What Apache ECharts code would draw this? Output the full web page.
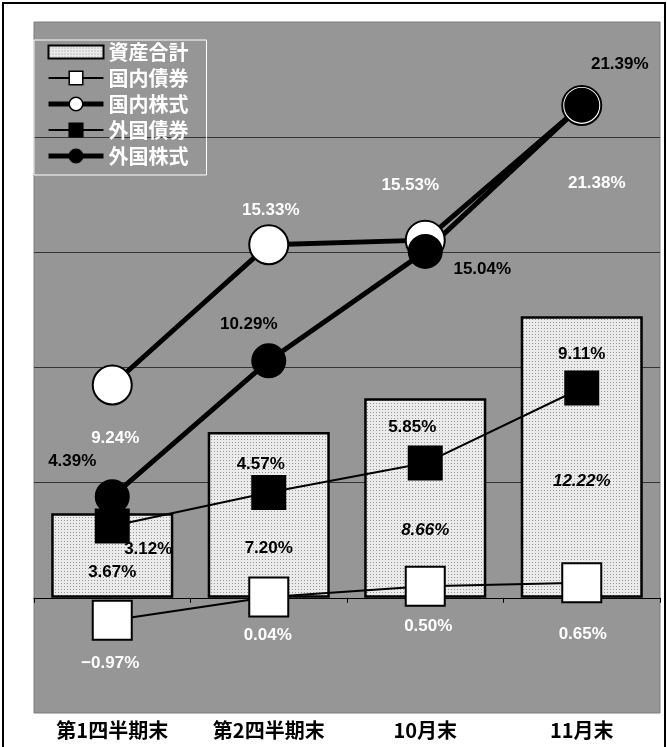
<!DOCTYPE html>
<html>
<head>
<meta charset="utf-8">
<title>資産別リターン</title>
<script src="https://cdn.jsdelivr.net/npm/echarts@6/dist/echarts.min.js"></script>
<style>
html, body { margin: 0; padding: 0; background: #fff; }
#chart { width: 667px; height: 747px; }
</style>
</head>
<body>
<div id="chart"></div>
<script>
// data
var categories = ['第1四半期末', '第2四半期末', '10月末', '11月末'];
var totalAssets = [3.67, 7.20, 8.66, 12.22];
var domesticBonds = [-0.97, 0.04, 0.50, 0.65];
var domesticStocks = [9.24, 15.33, 15.53, 21.38];
var foreignBonds = [3.12, 4.57, 5.85, 9.11];
var foreignStocks = [4.39, 10.29, 15.04, 21.39];
var names = ['資産合計', '国内債券', '国内株式', '外国債券', '外国株式'];
var yMin = -5, yMax = 25, yStep = 5;

// label placement (pixels from the mark)
var offTotal = [[0, 17], [0, 33], [0, 32], [0, 24]];
var italicTotal = [false, false, true, true];
var offDB = [[-2, 43], [-1, 38], [3, 40], [1, 51]];
var offDS = [[3, 53], [2, -34], [-15, -55], [15, 78]];
var offFB = [[36, 23], [-8, -28], [-13, -36], [0, -34]];
var offFS = [[-40, -35], [-20, -37], [57, 18], [38, -41]];

var numFont = "'Liberation Sans', Arial, sans-serif";
var jpFont = "'Noto Sans CJK JP', sans-serif";

// dotted fill for the bars
var pc = document.createElement('canvas');
pc.width = 3; pc.height = 3;
var pctx = pc.getContext('2d');
pctx.fillStyle = '#ebebeb';
pctx.fillRect(0, 0, 3, 3);
pctx.fillStyle = '#959595';
pctx.fillRect(1, 1, 1, 1);
var dotted = { image: pc, repeat: 'repeat' };

function fmt(p) {
    var v = p.value;
    return (v < 0 ? '−' + Math.abs(v).toFixed(2) : v.toFixed(2)) + '%';
}

function items(vals, offs, italics) {
    return vals.map(function (v, i) {
        var lab = { offset: offs[i] };
        if (italics) lab.fontStyle = italics[i] ? 'italic' : 'normal';
        return { value: v, label: lab };
    });
}

function lineSeries(name, vals, offs, symbol, size, fill, width, labelColor) {
    return {
        name: name,
        type: 'line',
        data: items(vals, offs),
        symbol: symbol,
        symbolSize: size,
        lineStyle: { color: '#000', width: width },
        itemStyle: { color: fill, borderColor: '#000', borderWidth: 2, opacity: 1 },
        label: {
            show: true, position: 'inside', formatter: fmt,
            color: labelColor, fontSize: 17, fontWeight: 'bold', fontFamily: numFont
        },
        emphasis: { disabled: true },
        z: 3
    };
}

var chart = echarts.init(document.getElementById('chart'), null, { renderer: 'canvas' });

chart.setOption({
    animation: false,
    backgroundColor: '#fff',
    graphic: [{
        type: 'rect',
        shape: { x: 3, y: 3, width: 662, height: 800 },
        style: { fill: 'none', stroke: '#000', lineWidth: 2 },
        silent: true
    }],
    grid: {
        left: 34, right: 7, top: 22, bottom: 34,
        show: true, backgroundColor: '#969696',
        borderColor: '#7c7c7c', borderWidth: 1
    },
    legend: {
        orient: 'vertical',
        left: 34, top: 40,
        padding: [2, 18, 9, 12],
        itemGap: 6,
        itemWidth: 55,
        itemHeight: 17,
        borderColor: '#fff', borderWidth: 1,
        selectedMode: false,
        textStyle: { color: '#fff', fontSize: 20, fontWeight: 'bold', fontFamily: jpFont },
        data: [
            { name: names[0], icon: 'path://M0,0L50,0L50,12L0,12Z', itemStyle: { borderWidth: 2, borderColor: '#000' } },
            { name: names[1], itemStyle: { borderWidth: 1.5 }, lineStyle: { width: 2 } },
            { name: names[2], itemStyle: { borderWidth: 1.5 }, lineStyle: { width: 5 } },
            { name: names[3], itemStyle: { borderWidth: 1.5 }, lineStyle: { width: 2 } },
            { name: names[4], itemStyle: { borderWidth: 1.5 }, lineStyle: { width: 5 } }
        ]
    },
    xAxis: [{
        type: 'category',
        data: categories,
        axisLine: { show: false, onZero: false },
        axisTick: { show: false },
        axisLabel: {
            margin: 7, color: '#000', fontSize: 20, fontWeight: 'bold', fontFamily: jpFont
        }
    }, {
        type: 'category',
        data: categories,
        axisLine: { show: true, onZero: true, lineStyle: { color: '#000', width: 1 } },
        axisTick: { show: true, inside: true, length: 5, lineStyle: { color: '#000' } },
        axisLabel: { show: false }
    }],
    yAxis: {
        type: 'value',
        min: yMin, max: yMax, interval: yStep,
        axisLine: { show: false },
        axisTick: { show: false },
        axisLabel: { show: false },
        splitLine: {
            show: true, showMinLine: false, showMaxLine: false,
            lineStyle: { color: '#333', width: 1 }
        }
    },
    series: [
        {
            name: names[0],
            type: 'bar',
            data: items(totalAssets, offTotal, italicTotal),
            barCategoryGap: '22%',
            itemStyle: { color: dotted, borderColor: '#000', borderWidth: 2.5 },
            label: {
                show: true, position: 'inside', formatter: fmt,
                color: '#000', fontSize: 17, fontWeight: 'bold', fontFamily: numFont
            },
            emphasis: { disabled: true },
            z: 2
        },
        lineSeries(names[1], domesticBonds, offDB, 'rect', 39, '#fff', 2, '#fff'),
        lineSeries(names[2], domesticStocks, offDS, 'circle', 39, '#fff', 5, '#fff'),
        lineSeries(names[3], foreignBonds, offFB, 'rect', 33, '#000', 2, '#000'),
        lineSeries(names[4], foreignStocks, offFS, 'circle', 33, '#000', 5, '#000')
    ]
});
</script>
</body>
</html>
